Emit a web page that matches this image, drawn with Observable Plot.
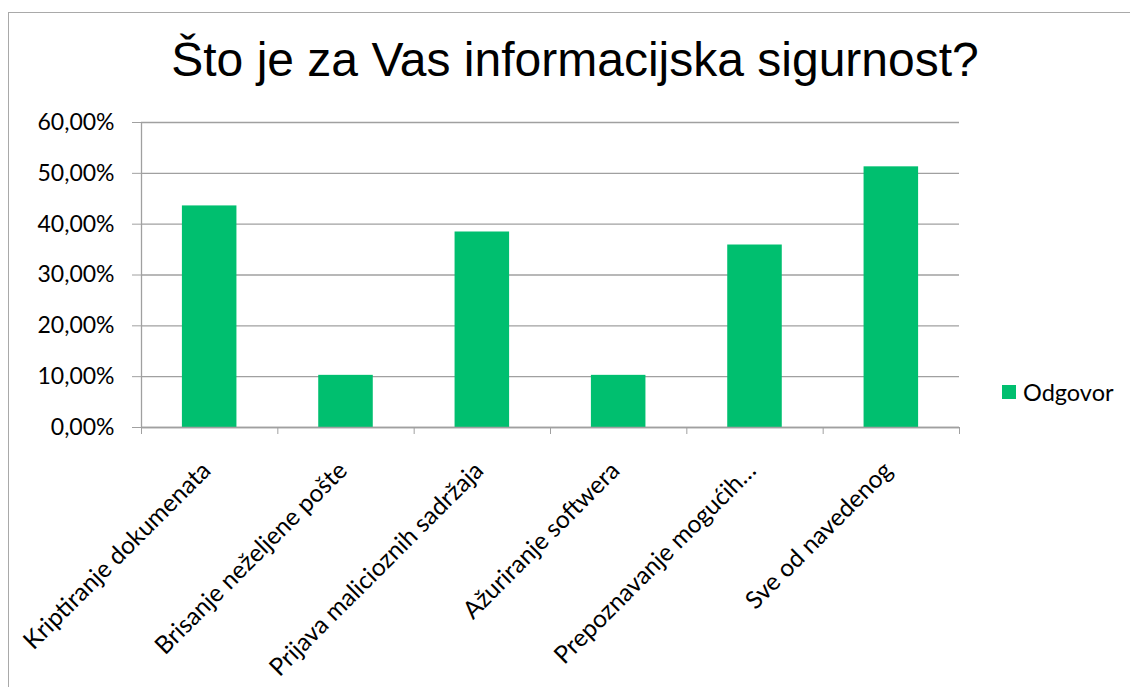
<!DOCTYPE html>
<html>
<head>
<meta charset="utf-8">
<script src="https://cdn.jsdelivr.net/npm/d3@7"></script>
<script src="https://cdn.jsdelivr.net/npm/@observablehq/plot@0.6"></script>
<style>
  html, body { margin: 0; padding: 0; background: #fff; }
  #wrap { position: relative; width: 1130px; height: 687px; overflow: hidden; background: #fff; }
  #border { position: absolute; left: 8px; top: 12px; width: 1140px; height: 700px; border: 1.5px solid #a9a9a9; box-sizing: border-box; }
  #title { position: absolute; left: 0; top: 0; width: 1150px; height: 100px; text-align: center;
           font-family: "Liberation Sans", Arial, sans-serif; font-size: 48px; line-height: 100px; padding-top: 10px; box-sizing: border-box; color: #000; }
  #chart { position: absolute; left: 0; top: 100px; }
  #legend { position: absolute; left: 1002px; top: 378px; font-family: Lato, sans-serif; font-size: 23.5px; color: #000; display: flex; align-items: center; }
  #legend .sw { width: 14px; height: 14px; margin-right: 7px; }
</style>
</head>
<body>
<div id="wrap">
  <div id="border"></div>
  <div id="title">Što je za Vas informacijska sigurnost?</div>
  <div id="chart"></div>
  <div id="legend"><div class="sw"></div><span id="legendLabel"></span></div>
</div>
<script>
const categories = [
  "Kriptiranje dokumenata",
  "Brisanje neželjene pošte",
  "Prijava malicioznih sadržaja",
  "Ažuriranje softwera",
  "Prepoznavanje mogućih…",
  "Sve od navedenog"
];
const values = [0.4359, 0.1026, 0.3846, 0.1026, 0.3590, 0.5128];
const yTicks = [0, 0.1, 0.2, 0.3, 0.4, 0.5, 0.6];
const seriesName = "Odgovor";
const barColor = "#00bf6f";

const data = categories.map((c, i) => ({category: c, i, value: values[i]}));
const gap = 0.3; // bar occupies the middle 40% of each category slot

document.querySelector("#legend .sw").style.background = barColor;
document.getElementById("legendLabel").textContent = seriesName;

const fmt = d => (d * 100).toFixed(2).replace(".", ",") + "%";

const chart = Plot.plot({
  width: 1130,
  height: 587,
  marginTop: 22,
  marginBottom: 260,
  marginLeft: 141,
  marginRight: 171,
  style: {fontFamily: "Lato, sans-serif", fontSize: "23px", color: "#000", background: "transparent"},
  x: {domain: [0, categories.length]},
  y: {domain: [0, 0.6]},
  marks: [
    Plot.gridY(yTicks, {stroke: "#a0a0a0", strokeOpacity: 1, strokeWidth: 1.3}),
    Plot.rectY(data, {x1: d => d.i + gap, x2: d => d.i + 1 - gap, y: "value", fill: barColor}),
    Plot.ruleY([0], {stroke: "#a0a0a0", strokeWidth: 1.3}),
    Plot.ruleX([0], {stroke: "#a0a0a0", strokeWidth: 1.3}),
    Plot.axisY({ticks: yTicks, tickFormat: fmt, tickSize: 9, tickPadding: 18, stroke: "#a0a0a0", strokeOpacity: 1, fill: "#000", label: null}),
    Plot.axisX({ticks: d3.range(categories.length + 1), tickFormat: () => "", tickSize: 7, stroke: "#a0a0a0", strokeOpacity: 1, label: null}),
    Plot.axisX({ticks: d3.range(categories.length).map(i => i + 0.5), tickFormat: t => categories[Math.floor(t)],
                tickSize: 0, tickPadding: 39, dx: -3, tickRotate: -45, fontSize: 24.5, fill: "#000", label: null})
  ]
});
document.getElementById("chart").appendChild(chart);
</script>
</body>
</html>
